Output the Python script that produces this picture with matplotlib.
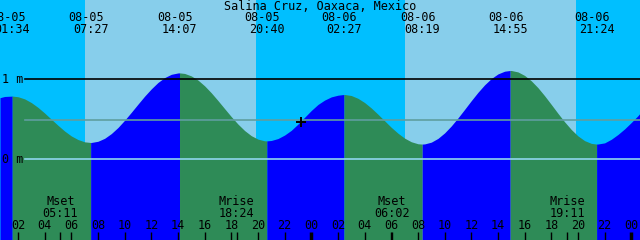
import matplotlib
matplotlib.use("Agg")
import matplotlib.pyplot as plt
import matplotlib.transforms as mtransforms
import numpy as np

# hours counted from 08-05 00:00 local time
T_START = 0.653
T_END = T_START + 48.0

# tide extremes (labels along the top)
ext_date = ["08-05", "08-05", "08-05", "08-05", "08-06", "08-06", "08-06", "08-06"]
ext_time = ["01:34", "07:27", "14:07", "20:40", "02:27", "08:19", "14:55", "21:24"]
ext_height = [0.79, 0.21, 1.08, 0.23, 0.81, 0.19, 1.11, 0.19]

# tide height every half hour (m)
curve_t = [0.653, 1, 1.5, 2, 2.5, 3, 3.5, 4, 4.5, 5, 5.5, 6, 6.5, 7, 7.5, 8,
           8.5, 9, 9.5, 10, 10.5, 11, 11.5, 12, 12.5, 13, 13.5, 14, 14.5, 15,
           15.5, 16, 16.5, 17, 17.5, 18, 18.5, 19, 19.5, 20, 20.5, 21, 21.5,
           22, 22.5, 23, 23.5, 24, 24.5, 25, 25.5, 26, 26.5, 27, 27.5, 28,
           28.5, 29, 29.5, 30, 30.5, 31, 31.5, 32, 32.5, 33, 33.5, 34, 34.5,
           35, 35.5, 36, 36.5, 37, 37.5, 38, 38.5, 39, 39.5, 40, 40.5, 41,
           41.5, 42, 42.5, 43, 43.5, 44, 44.5, 45, 45.5, 46, 46.5, 47, 47.5,
           48, 48.5, 48.653]
curve_h = [0.77, 0.785, 0.789, 0.782, 0.755, 0.709, 0.649, 0.578, 0.501, 0.425,
           0.353, 0.292, 0.247, 0.218, 0.210, 0.225, 0.262, 0.321, 0.397, 0.488,
           0.587, 0.689, 0.789, 0.880, 0.960, 1.021, 1.062, 1.079, 1.073, 1.042,
           0.990, 0.918, 0.831, 0.734, 0.633, 0.533, 0.440, 0.359, 0.295, 0.252,
           0.231, 0.235, 0.259, 0.303, 0.362, 0.44, 0.525, 0.61, 0.685, 0.74,
           0.78, 0.801, 0.81, 0.797, 0.762, 0.709, 0.641, 0.563, 0.481, 0.399,
           0.326, 0.264, 0.219, 0.194, 0.192, 0.214, 0.261, 0.330, 0.417, 0.517,
           0.624, 0.733, 0.837, 0.931, 1.009, 1.067, 1.101, 1.11, 1.092, 1.048,
           0.981, 0.895, 0.794, 0.685, 0.574, 0.468, 0.372, 0.292, 0.233, 0.199,
           0.191, 0.205, 0.25, 0.31, 0.38, 0.46, 0.545, 0.575]

# daylight (hours)
sunrise = [7.03, 31.03]
sunset = [19.87, 43.87]

# moon events (labels along the bottom)
moon_name = ["Mset", "Mrise", "Mset", "Mrise"]
moon_time = ["05:11", "18:24", "06:02", "19:11"]
moon_day = [0, 0, 1, 1]

mark_level = 0.49           # horizontal reference line
now_t, now_h = 23.23, 0.46  # crosshair

NIGHT = "#00bfff"
DAY = "#87ceeb"
FLOOD = "#0000ff"
EBB = "#2e8b57"


def to_hours(day, hhmm):
    hh, mm = hhmm.split(":")
    return day * 24 + int(hh) + int(mm) / 60


ext_t = [to_hours(0 if d == "08-05" else 1, s) for d, s in zip(ext_date, ext_time)]

# merge extremes into curve so segments meet exactly
pts = sorted(zip(curve_t + ext_t, curve_h + ext_height))
tt = np.array([p[0] for p in pts])
hh = np.array([p[1] for p in pts])

Y_BOT, Y_TOP = -1.009, 1.991

fig = plt.figure(figsize=(6.4, 2.4), dpi=100)
ax = fig.add_axes([0, 0, 1, 1])
ax.set_xlim(T_START, T_END)
ax.set_ylim(Y_BOT, Y_TOP)
ax.set_axis_off()

# sky
ax.axvspan(T_START, T_END, color=NIGHT, lw=0, zorder=0)
for r, s in zip(sunrise, sunset):
    ax.axvspan(r, s, color=DAY, lw=0, zorder=0.5)

# tide fill, flood = blue, ebb = green
bounds = [T_START] + ext_t + [T_END]
for i in range(len(bounds) - 1):
    a, b = bounds[i], bounds[i + 1]
    m = (tt >= a - 1e-6) & (tt <= b + 1e-6)
    rising = hh[m][-1] > hh[m][0]
    ax.fill_between(tt[m], Y_BOT, hh[m], color=FLOOD if rising else EBB,
                    lw=0, zorder=1)

x0 = 25 / 640
ax.axhline(1.0, xmin=x0, color="black", lw=1.2, zorder=2)
ax.axhline(0.0, xmin=x0, color="#8fd6ee", lw=1.2, zorder=2)
ax.axhline(mark_level, xmin=x0, color="#5f9ea0", lw=1.2, zorder=2)
ax.plot(now_t, now_h, marker="+", color="black", ms=7, mew=1.4, zorder=3)

font = dict(family="DejaVu Sans Mono", fontsize=8.5, color="black")
tr = mtransforms.blended_transform_factory(ax.transData, fig.transFigure)
tr_left = mtransforms.blended_transform_factory(fig.transFigure, ax.transData)


def fy(ypx):
    return 1 - ypx / 240


ax.text(0.5, fy(6), "Salina Cruz, Oaxaca, Mexico", transform=fig.transFigure,
        ha="center", va="center", **font)
for t, d, s in zip(ext_t, ext_date, ext_time):
    ax.text(t - 0.34, fy(17.5), d, transform=tr, ha="center", va="center", **font)
    ax.text(t, fy(29.5), s, transform=tr, ha="center", va="center", **font)

ax.text(2 / 640, 1.0, "1 m", transform=tr_left, ha="left", va="center", **font)
ax.text(2 / 640, 0.0, "0 m", transform=tr_left, ha="left", va="center", **font)

# hour ticks
hours = np.arange(2, 49, 2)
for h in hours:
    ax.text(h, fy(225.5), f"{h % 24:02d}", transform=tr, ha="center",
            va="center", **font)
    ax.plot([h, h], [fy(232), fy(240)], transform=tr, color="black",
            lw=2.5 if h % 24 == 0 else 1, solid_capstyle="butt", zorder=3)

for name, s, d in zip(moon_name, moon_time, moon_day):
    t = to_hours(d, s)
    ax.text(t, fy(201.5), name, transform=tr, ha="center", va="center", **font)
    ax.text(t, fy(213.5), s, transform=tr, ha="center", va="center", **font)
    ax.plot([t, t], [fy(232), fy(240)], transform=tr, color="black", lw=1,
            solid_capstyle="butt", zorder=3)

fig.savefig("out.png", dpi=100)
